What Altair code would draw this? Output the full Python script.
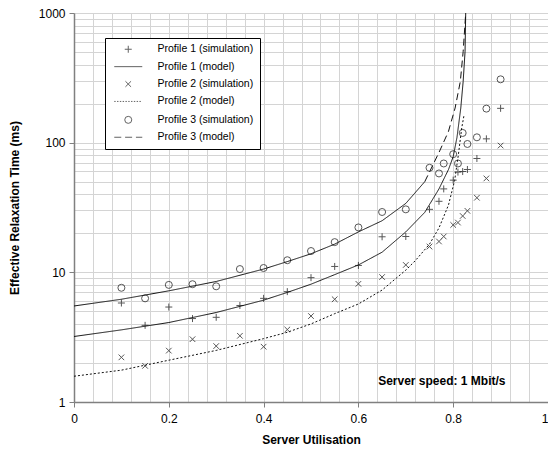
import altair as alt
import pandas as pd

# ---------------- data ----------------
sim_x = [0.1, 0.15, 0.2, 0.25, 0.3, 0.35, 0.4, 0.45, 0.5, 0.55, 0.6, 0.65, 0.7,
         0.75, 0.77, 0.78, 0.8, 0.81, 0.82, 0.83, 0.85, 0.87, 0.9]
p1_sim_y = [5.8, 3.9, 5.4, 4.4, 4.5, 5.55, 6.3, 7.1, 9.1, 11.1, 11.3, 18.8, 18.9,
            30.6, 35.3, 44.0, 51.4, 59.3, 59.9, 62.1, 75.5, 107.0, 184.0]
p2_sim_y = [2.21, 1.90, 2.49, 3.05, 2.70, 3.24, 2.67, 3.62, 4.6, 6.2, 8.15, 9.2, 11.4,
            15.8, 17.3, 18.9, 23.2, 24.2, 27.2, 29.8, 37.6, 53.0, 95.0]
p3_sim_y = [7.6, 6.3, 8.0, 8.1, 7.8, 10.6, 10.8, 12.4, 14.6, 17.1, 22.2, 29.2, 30.6,
            64.0, 57.9, 69.1, 81.5, 69.1, 118.8, 97.7, 110.0, 183.0, 308.0]

p1_mod_x = [0, 0.1, 0.2, 0.3, 0.4, 0.45, 0.5, 0.55, 0.6, 0.65, 0.7, 0.74, 0.77,
            0.79, 0.80, 0.808, 0.816, 0.821, 0.825, 0.8264]
p1_mod_y = [3.2, 3.6, 4.1, 4.9, 6.1, 7.0, 8.1, 9.6, 11.4, 14.3, 20.5, 29.0, 44.0,
            62.0, 78.0, 110.0, 185.0, 296.0, 503.0, 1000.0]

p2_mod_x = [0, 0.1, 0.2, 0.3, 0.4, 0.45, 0.5, 0.55, 0.6, 0.65, 0.7, 0.72, 0.75,
            0.77, 0.79, 0.803, 0.811, 0.818, 0.823]
p2_mod_y = [1.58, 1.76, 2.1, 2.5, 3.08, 3.45, 4.0, 4.8, 5.7, 7.3, 10.4, 12.3, 16.5,
            22.0, 33.0, 51.0, 81.0, 130.0, 164.0]

p3_mod_x = [0, 0.1, 0.2, 0.3, 0.4, 0.45, 0.5, 0.55, 0.6, 0.65, 0.7, 0.74,
            0.77, 0.79, 0.804, 0.815, 0.821, 0.8264]
p3_mod_y = [5.5, 6.2, 7.2, 8.5, 10.6, 12.1, 13.9, 16.5, 20.5, 25.0, 34.0, 50.0,
            84.0, 122.0, 185.0, 296.0, 503.0, 1000.0]

series_names = ["Profile 1 (simulation)", "Profile 1 (model)",
                "Profile 2 (simulation)", "Profile 2 (model)",
                "Profile 3 (simulation)", "Profile 3 (model)"]

x_major = [0, 0.2, 0.4, 0.6, 0.8, 1]
y_major = [1, 10, 100, 1000]

note_text = ["Server speed: 1 Mbit/s"]
note_x = [0.776]
note_y = [1.45]

# ---------------- tables ----------------
sim_rows = []
for name, ys in [(series_names[0], p1_sim_y), (series_names[2], p2_sim_y),
                 (series_names[4], p3_sim_y)]:
    for x, y in zip(sim_x, ys):
        sim_rows.append({"x": x, "y": y, "series": name})
sim_df = pd.DataFrame(sim_rows)

mod_rows = []
for x, y in zip(p1_mod_x, p1_mod_y):
    mod_rows.append({"x": x, "y": y, "seg": "p1"})
for x, y in zip(p2_mod_x, p2_mod_y):
    mod_rows.append({"x": x, "y": y, "seg": "p2"})
for x, y in zip(p3_mod_x, p3_mod_y):
    # Excel renders the low, densely sampled part of the dashed curve as solid
    if x <= 0.74:
        mod_rows.append({"x": x, "y": y, "seg": "p3a"})
    if x >= 0.74:
        mod_rows.append({"x": x, "y": y, "seg": "p3b"})
mod_df = pd.DataFrame(mod_rows)

note_df = pd.DataFrame({"x": note_x, "y": note_y, "t": note_text})

FONT = "Liberation Sans"
x_grid = [round(i * 0.04, 2) for i in range(26)]
y_grid = [m * 10 ** e for e in range(0, 3) for m in range(1, 10)] + [1000]

x_list = "[" + ",".join(str(v) for v in x_major) + "]"
y_list = "[" + ",".join(str(v) for v in y_major) + "]"
x_test = f"indexof({x_list}, datum.value) >= 0"
y_test = f"indexof({y_list}, datum.value) >= 0"

x_scale = alt.Scale(domain=[0, 1], nice=False, zero=False)
y_scale = alt.Scale(type="log", domain=[1, 1000], nice=False)

x_axis = alt.Axis(
    title="Server Utilisation", values=x_grid, tickCount=200,
    labelExpr=f"{x_test} ? format(datum.value, '~g') : ''",
    labelAlign={"expr": "datum.value == 1 ? 'right' : 'center'"},
    tickOpacity={"expr": f"{x_test} ? 1 : 0"},
    grid=True, labelFlush=False, labelOverlap=False, labelPadding=6, titlePadding=10,
)
y_axis = alt.Axis(
    title="Effective Relaxation Time (ms)", values=y_grid, format="d", tickCount=200,
    labelExpr=f"{y_test} ? datum.label : ''",
    tickOpacity={"expr": f"{y_test} ? 1 : 0"},
    grid=True, labelOverlap=False, labelFlush=False, labelPadding=4, titlePadding=17,
)

shape_range = [
    "M-1,0L1,0M0,-1L0,1",
    "M-4,0L4,0",
    "M-0.8,-0.8L0.8,0.8M-0.8,0.8L0.8,-0.8",
    "M-4,0L-3.6,0M-3.2,0L-2.8,0M-2.4,0L-2,0M-1.6,0L-1.2,0M-0.8,0L-0.4,0M0,0L0.4,0M0.8,0L1.2,0M1.6,0L2,0M2.4,0L2.8,0M3.2,0L3.6,0",
    "circle",
    "M-4,0L-2,0M-0.9,0L1.1,0M2.2,0L4,0",
]

points = alt.Chart(sim_df).mark_point(
    filled=False, color="#111111", strokeWidth=1, size=49
).encode(
    x=alt.X("x:Q", scale=x_scale, axis=x_axis),
    y=alt.Y("y:Q", scale=y_scale, axis=y_axis),
    shape=alt.Shape(
        "series:N",
        scale=alt.Scale(domain=series_names, range=shape_range),
        legend=alt.Legend(
            title=None, orient="none", legendX=31, legendY=25,
            padding=6, symbolSize=49, symbolStrokeWidth=1,
            symbolStrokeColor="#222222", symbolFillColor="transparent",
            symbolOffset=12, labelOffset=24, rowPadding=6.4,
            labelFont=FONT, labelFontSize=10.5, labelColor="#000000",
            strokeColor="#000000", fillColor="#ffffff", cornerRadius=0,
        ),
    ),
)

lines = alt.Chart(mod_df).mark_line(color="#111111", strokeWidth=1).encode(
    x=alt.X("x:Q", scale=x_scale),
    y=alt.Y("y:Q", scale=y_scale),
    detail="seg:N",
    strokeDash=alt.StrokeDash(
        "seg:N",
        scale=alt.Scale(domain=["p1", "p2", "p3a", "p3b"],
                        range=[[1, 0], [2, 2], [1, 0], [7, 4]]),
        legend=None,
    ),
    order="x:Q",
)

note = alt.Chart(note_df).mark_text(
    font=FONT, fontSize=12, fontWeight="bold", color="#000000", align="center",
    baseline="middle",
).encode(
    x=alt.X("x:Q", scale=x_scale),
    y=alt.Y("y:Q", scale=y_scale),
    text="t:N",
)

chart = alt.layer(lines, points, note).properties(
    width=474, height=389,
    autosize=alt.AutoSizeParams(type="none"),
    padding={"left": 66, "top": 5, "right": 0, "bottom": 44},
).configure_view(stroke=None).configure_axis(
    labelFont=FONT, labelFontSize=12, labelColor="#000000",
    titleFont=FONT, titleFontSize=12, titleFontWeight="bold", titleColor="#000000",
    domainColor="#808080", domainWidth=1.5, tickColor="#808080", tickSize=5,
    gridColor="#d4d4d4", gridWidth=1,
)

chart.save("out.html", embed_options={"renderer": "svg", "actions": False})
